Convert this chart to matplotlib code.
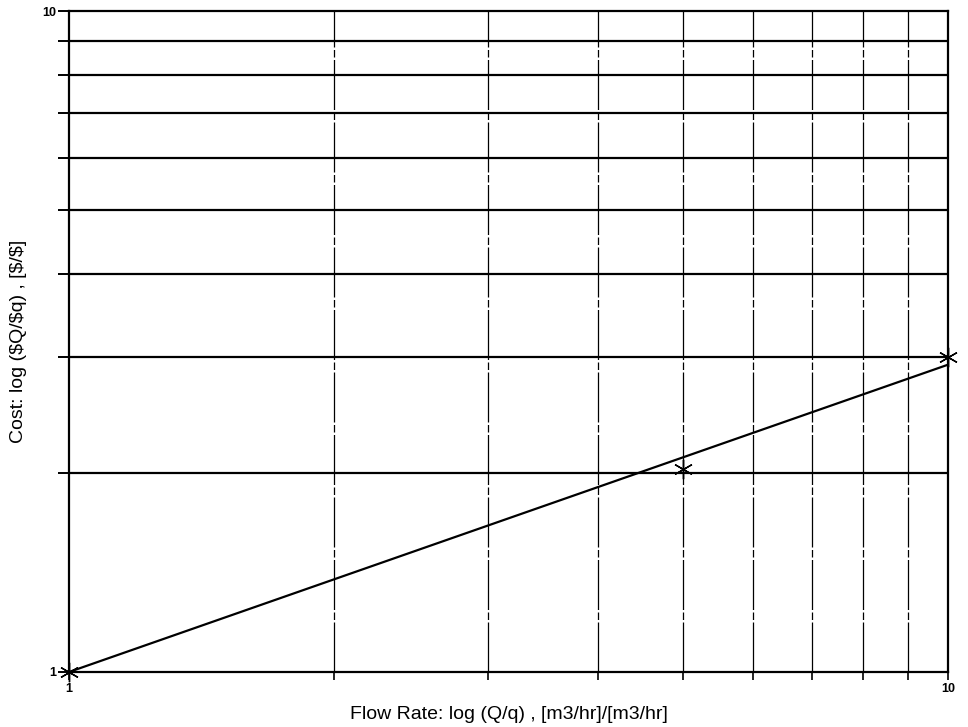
import matplotlib
matplotlib.use("Agg")
import matplotlib.pyplot as plt
import matplotlib.ticker as ticker
import numpy as np

plt.rcParams['font.family'] = ['Liberation Sans', 'DejaVu Sans']

# data
flow = np.array([1.0, 5.0, 10.0])
cost = np.array([1.0, 2.03, 3.0])
grid_vals = [2, 3, 4, 5, 6, 7, 8, 9]

# power-law fit through (1, 1): log(cost) = b * log(flow)
lx, ly = np.log10(flow), np.log10(cost)
b = np.sum(lx * ly) / np.sum(lx * lx)
fit_x = np.array([flow.min(), flow.max()])
fit_y = fit_x ** b

fig = plt.figure(figsize=(9.68, 7.27), dpi=100)
ax = fig.add_axes([69 / 968, 55 / 727, 879 / 968, 661 / 727])

ax.set_xscale('log')
ax.set_yscale('log')
ax.set_xlim(1, 10)
ax.set_ylim(1, 10)

for v in grid_vals:
    ax.axhline(v, color='black', lw=1.6, zorder=1)
    ax.axvline(v, color='black', lw=0.9, ls=(0, (40, 2, 6, 2)), zorder=1)

ax.plot(fit_x, fit_y, color='black', lw=1.6, zorder=3)
ax.plot(flow, cost, ls='none', marker=(6, 2, 0), ms=14, mew=1.0,
        color='black', zorder=4, clip_on=False)

ax.xaxis.set_major_locator(ticker.FixedLocator([1, 10]))
ax.yaxis.set_major_locator(ticker.FixedLocator([1, 10]))
ax.xaxis.set_minor_locator(ticker.FixedLocator(grid_vals))
ax.yaxis.set_minor_locator(ticker.FixedLocator(grid_vals))
ax.xaxis.set_major_formatter(ticker.FixedFormatter(['1', '10']))
ax.yaxis.set_major_formatter(ticker.FixedFormatter(['1', '10']))
ax.xaxis.set_minor_formatter(ticker.NullFormatter())
ax.yaxis.set_minor_formatter(ticker.NullFormatter())

ax.tick_params(axis='y', which='both', direction='out', length=8, width=1.4,
               labelsize=9, pad=1)
ax.tick_params(axis='x', which='both', direction='out', length=6, width=1.2,
               labelsize=9, pad=2)
for lab in ax.get_xticklabels() + ax.get_yticklabels():
    lab.set_fontweight('bold')

for s in ax.spines.values():
    s.set_linewidth(1.6)

ax.set_xlabel('Flow Rate: log (Q/q) , [m3/hr]/[m3/hr]', fontsize=14, labelpad=8)
ax.set_ylabel(r'Cost: log (\$Q/\$q) , [\$/\$]', fontsize=14, labelpad=11)

fig.savefig('out.png', dpi=100)
